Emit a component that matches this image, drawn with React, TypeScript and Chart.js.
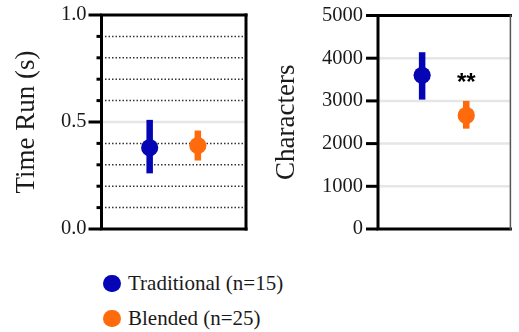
import React, { useEffect, useRef } from 'react';
import { Chart, registerables } from 'chart.js';
Chart.register(...registerables);

// ---- data ----
const groups = ['Traditional (n=15)', 'Blended (n=25)'];
const groupX = [1, 2];

const timeMean = [0.38, 0.39];
const timeLow = [0.26, 0.32];
const timeHigh = [0.51, 0.46];
const timeMajorTicks = [0, 0.5, 1.0];
const timeMinorTicks = [0.1, 0.2, 0.3, 0.4, 0.6, 0.7, 0.8, 0.9];

const charMean = [3600, 2660];
const charLow = [3030, 2350];
const charHigh = [4140, 3000];
const charTicks = [0, 1000, 2000, 3000, 4000, 5000];
const charGridValues = [1000, 2000, 3000, 4000];

const sigLabel = '**';
const sigGroup = 1;
const sigValue = 3250;

// ---- styles ----
const COLORS = ['#0505B5', '#FF6A0D'];
const SERIF = '"Liberation Serif", "Times New Roman", serif';

type GridLine = { v: number; color: string; width: number; dash?: number[] };
type TickMark = { v: number; len: number };

function makePlugin(cfg: {
  grid: GridLine[];
  ticks: TickMark[];
  low: number[];
  high: number[];
  rightBorderWidth: number;
  sig?: { label: string; group: number; value: number };
}) {
  return {
    id: 'customDecor',
    beforeDatasetsDraw(chart: any) {
      const { ctx, chartArea: a, scales } = chart;
      const y = scales.y;
      const x = scales.x;
      ctx.save();
      cfg.grid.forEach((g) => {
        const py = y.getPixelForValue(g.v);
        ctx.beginPath();
        ctx.setLineDash(g.dash || []);
        ctx.strokeStyle = g.color;
        ctx.lineWidth = g.width;
        ctx.moveTo(a.left, py);
        ctx.lineTo(a.right, py);
        ctx.stroke();
      });
      ctx.setLineDash([]);
      cfg.ticks.forEach((t) => {
        const py = y.getPixelForValue(t.v);
        ctx.beginPath();
        ctx.strokeStyle = '#000';
        ctx.lineWidth = 3;
        ctx.moveTo(a.left - t.len, py);
        ctx.lineTo(a.left, py);
        ctx.stroke();
      });
      cfg.low.forEach((lo, i) => {
        const px = x.getPixelForValue(groupX[i]);
        ctx.beginPath();
        ctx.strokeStyle = COLORS[i];
        ctx.lineWidth = 6.5;
        ctx.lineCap = 'butt';
        ctx.moveTo(px, y.getPixelForValue(lo));
        ctx.lineTo(px, y.getPixelForValue(cfg.high[i]));
        ctx.stroke();
      });
      ctx.restore();
    },
    afterDatasetsDraw(chart: any) {
      const { ctx, chartArea: a, scales } = chart;
      ctx.save();
      ctx.strokeStyle = '#000';
      ctx.lineCap = 'square';
      ctx.lineWidth = 3;
      ctx.beginPath();
      ctx.moveTo(a.left, a.top);
      ctx.lineTo(a.left, a.bottom);
      ctx.moveTo(a.left, a.bottom);
      ctx.lineTo(a.right, a.bottom);
      ctx.moveTo(a.left, a.top);
      ctx.lineTo(a.right, a.top);
      ctx.stroke();
      ctx.beginPath();
      ctx.lineWidth = cfg.rightBorderWidth;
      ctx.strokeStyle = cfg.rightBorderWidth < 3 ? '#555' : '#000';
      ctx.moveTo(a.right, a.top);
      ctx.lineTo(a.right, a.bottom);
      ctx.stroke();
      if (cfg.sig) {
        const px = scales.x.getPixelForValue(groupX[cfg.sig.group]);
        const py = scales.y.getPixelForValue(cfg.sig.value);
        ctx.fillStyle = '#000';
        ctx.font = 'bold 24px "Liberation Sans", Arial, sans-serif';
        ctx.textAlign = 'center';
        ctx.textBaseline = 'alphabetic';
        ctx.fillText(cfg.sig.label, px, py);
      }
      ctx.restore();
    },
  };
}

function baseOptions(opts: {
  yMin: number;
  yMax: number;
  step: number;
  title: string;
  tickCb: (v: number) => string;
  padding: { left: number; right: number; top: number; bottom: number };
  axisWidth: number;
}): any {
  return {
    responsive: false,
    animation: false,
    devicePixelRatio: 1,
    layout: { padding: opts.padding },
    plugins: { legend: { display: false }, tooltip: { enabled: false } },
    scales: {
      x: { type: 'linear', min: 0, max: 3, display: false },
      y: {
        type: 'linear',
        min: opts.yMin,
        max: opts.yMax,
        afterFit: (s: any) => {
          s.width = opts.axisWidth;
        },
        grid: {
          display: true,
          drawOnChartArea: false,
          drawTicks: true,
          tickLength: 15,
          color: 'rgba(0,0,0,0)',
          tickColor: 'rgba(0,0,0,0)',
        },
        border: { display: false },
        ticks: {
          stepSize: opts.step,
          autoSkip: false,
          padding: 0,
          color: '#1a1a1a',
          font: { family: SERIF, size: 20.5 },
          callback: (v: any) => opts.tickCb(Number(v)),
        },
        title: {
          display: true,
          text: opts.title,
          color: '#1a1a1a',
          font: { family: SERIF, size: 27 },
          padding: { top: 11, bottom: 0 },
        },
      },
    },
  };
}

function pointDatasets(means: number[]) {
  return means.map((m, i) => ({
    label: groups[i],
    data: [{ x: groupX[i], y: m }],
    backgroundColor: COLORS[i],
    borderColor: COLORS[i],
    borderWidth: 0,
    pointRadius: 8.6,
  }));
}

export default function App() {
  const leftRef = useRef<HTMLCanvasElement>(null);
  const rightRef = useRef<HTMLCanvasElement>(null);

  useEffect(() => {
    const leftGrid: GridLine[] = [
      ...timeMinorTicks.map((v) => ({ v, color: '#333', width: 1.5, dash: [1.5, 2] })),
      { v: 0.5, color: '#e6e6e6', width: 2.5 },
    ];
    const leftTicks: TickMark[] = [
      ...timeMajorTicks.map((v) => ({ v, len: 13 })),
      ...timeMinorTicks.map((v) => ({ v, len: 5 })),
    ];
    const c1 = new Chart(leftRef.current as HTMLCanvasElement, {
      type: 'scatter',
      data: { datasets: pointDatasets(timeMean) as any },
      options: baseOptions({
        yMin: 0,
        yMax: 1,
        step: 0.1,
        title: 'Time Run (s)',
        tickCb: (v) => {
          const r = Math.round(v * 10);
          return r % 5 === 0 ? (r / 10).toFixed(1) : '';
        },
        padding: { left: 0, right: 14, top: 15, bottom: 21 },
        axisWidth: 101.5,
      }),
      plugins: [
        makePlugin({ grid: leftGrid, ticks: leftTicks, low: timeLow, high: timeHigh, rightBorderWidth: 3 }) as any,
      ],
    });

    const rightGrid: GridLine[] = charGridValues.map((v) => ({ v, color: '#e6e6e6', width: 2.5 }));
    const rightTicks: TickMark[] = charTicks.map((v) => ({ v, len: 12 }));
    const c2 = new Chart(rightRef.current as HTMLCanvasElement, {
      type: 'scatter',
      data: { datasets: pointDatasets(charMean) as any },
      options: baseOptions({
        yMin: 0,
        yMax: 5000,
        step: 1000,
        title: 'Characters',
        tickCb: (v) => String(Math.round(v)),
        padding: { left: 0, right: 2, top: 15.5, bottom: 21 },
        axisWidth: 118,
      }),
      plugins: [
        makePlugin({
          grid: rightGrid,
          ticks: rightTicks,
          low: charLow,
          high: charHigh,
          rightBorderWidth: 1.5,
          sig: { label: sigLabel, group: sigGroup, value: sigValue },
        }) as any,
      ],
    });
    return () => {
      c1.destroy();
      c2.destroy();
    };
  }, []);

  return (
    <div style={{ position: 'absolute', left: 0, top: 0, width: 519, height: 332, background: '#fff' }}>
      <canvas ref={leftRef} width={260} height={250} style={{ position: 'absolute', left: 0, top: 0 }} />
      <canvas ref={rightRef} width={259} height={250} style={{ position: 'absolute', left: 260, top: 0 }} />
      {groups.map((g, i) => (
        <React.Fragment key={g}>
          <span
            style={{
              position: 'absolute',
              left: 103.4,
              top: 274.6 + i * 35,
              width: 17.3,
              height: 17.3,
              borderRadius: '50%',
              background: COLORS[i],
            }}
          />
          <span
            style={{
              position: 'absolute',
              left: 128,
              top: 273.1 + i * 35,
              fontFamily: SERIF,
              fontSize: 21,
              lineHeight: '21px',
              color: '#1a1a1a',
              whiteSpace: 'nowrap',
            }}
          >
            {g}
          </span>
        </React.Fragment>
      ))}
    </div>
  );
}
